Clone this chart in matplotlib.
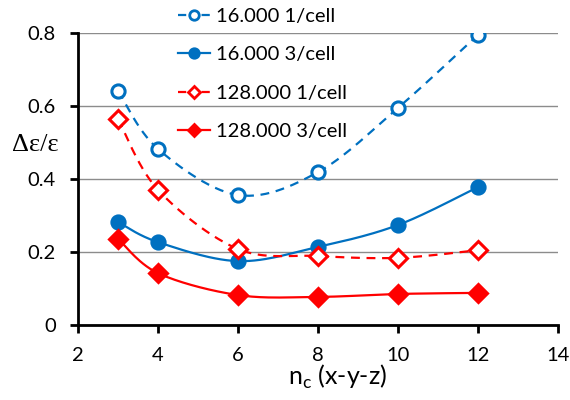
import numpy as np
import matplotlib.pyplot as plt

# data
nc = [3, 4, 6, 8, 10, 12]
s16_1 = [0.641, 0.482, 0.356, 0.419, 0.595, 0.795]
s16_3 = [0.282, 0.227, 0.175, 0.214, 0.274, 0.378]
s128_1 = [0.564, 0.370, 0.208, 0.189, 0.184, 0.205]
s128_3 = [0.236, 0.142, 0.082, 0.077, 0.085, 0.088]
labels = ["16.000 1/cell", "16.000 3/cell", "128.000 1/cell", "128.000 3/cell"]

blue = "#0070C0"
red = "#FF0000"


def smooth(x, y, n=30):
    # Excel-like smoothed line (Catmull-Rom through the points)
    x = np.asarray(x, float)
    y = np.asarray(y, float)
    px = np.concatenate([[x[0]], x, [x[-1]]])
    py = np.concatenate([[y[0]], y, [y[-1]]])
    xs, ys = [], []
    t = np.linspace(0, 1, n)
    for i in range(1, len(x)):
        for p, out in ((px, xs), (py, ys)):
            p0, p1, p2, p3 = p[i - 1], p[i], p[i + 1], p[i + 2]
            out.extend(0.5 * ((2 * p1) + (-p0 + p2) * t
                              + (2 * p0 - 5 * p1 + 4 * p2 - p3) * t ** 2
                              + (-p0 + 3 * p1 - 3 * p2 + p3) * t ** 3))
    return xs, ys


plt.rcParams['font.family'] = ['Lato', 'DejaVu Sans']
plt.rcParams['font.serif'] = ['Liberation Serif', 'DejaVu Serif']

fig = plt.figure(figsize=(5.7, 4), dpi=100)
ax = fig.add_axes([0.137, 0.1875, 0.842, 0.73])

series = [
    (s16_1, blue, 'o', '--', 'white'),
    (s16_3, blue, 'o', '-', blue),
    (s128_1, red, 'D', '--', 'white'),
    (s128_3, red, 'D', '-', red),
]
handles = []
for (vals, c, m, ls, fc), lab in zip(series, labels):
    sx, sy = smooth(nc, vals)
    if ls == '--':
        ax.plot(sx, sy, color=c, lw=1.6, dashes=(4, 3))
    else:
        ax.plot(sx, sy, color=c, lw=1.6)
    ms = 9.5 if m == 'o' else 9
    ax.plot(nc, vals, ls='none', marker=m, ms=ms, mfc=fc, mec=c, mew=2.2, zorder=3)
    h, = ax.plot([], [], color=c, ls=ls, lw=1.6, marker=m, ms=ms * 0.72,
                 mfc=fc, mec=c, mew=2, label=lab)
    handles.append(h)

ax.set_xlim(2, 14)
ax.set_ylim(0, 0.8)
ax.set_xticks([2, 4, 6, 8, 10, 12, 14])
ax.set_yticks([0, 0.2, 0.4, 0.6, 0.8])
ax.set_yticklabels(["0", "0.2", "0.4", "0.6", "0.8"])
ax.grid(axis='y', color='#8c8c8c', lw=1)
ax.set_axisbelow(True)
for s in ['top', 'right']:
    ax.spines[s].set_visible(False)
for s in ['left', 'bottom']:
    ax.spines[s].set_linewidth(2)
ax.tick_params(direction='out', length=6, width=2, labelsize=14.5)
ax.tick_params(axis='y', pad=10)
ax.tick_params(axis='x', pad=10)
ax.set_xlabel("n$_\\mathregular{c}$ (x-y-z)", fontsize=18)
ax.xaxis.set_label_coords(0.54, -0.13)
ax.set_ylabel("Δε/ε", rotation=0, va='center', ha='center',
              fontfamily='serif', fontsize=19)
ax.yaxis.set_label_coords(-0.09, 0.616)

fig.legend(handles=handles, loc='upper left', bbox_to_anchor=(0.28, 1.025),
           frameon=False, fontsize=14.5, handlelength=1.6, labelspacing=1.05,
           handletextpad=0.3)

fig.savefig("out.png", dpi=100)
